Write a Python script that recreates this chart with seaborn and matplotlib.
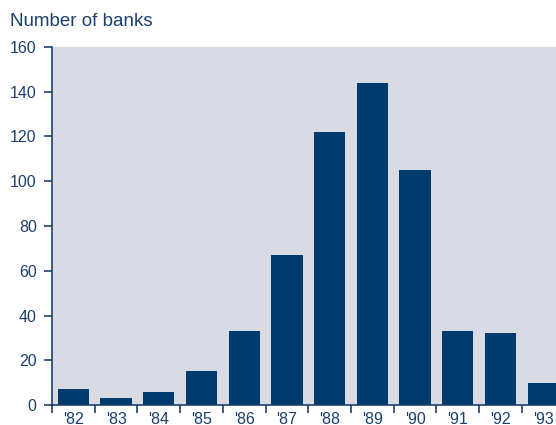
import matplotlib
matplotlib.use("Agg")
import matplotlib.pyplot as plt
import seaborn as sns
import pandas as pd
import numpy as np

# Data
years = ["'82", "'83", "'84", "'85", "'86", "'87", "'88", "'89", "'90", "'91", "'92", "'93"]
banks = [7, 3, 6, 15, 33, 67, 122, 144, 105, 33, 32, 10]
y_ticks = [0, 20, 40, 60, 80, 100, 120, 140, 160]

navy = "#003a6e"
text_blue = "#1d3f6e"
bg = "#d9dbe4"

sns.set_theme(style="white")
plt.rcParams["font.family"] = ["Liberation Sans", "DejaVu Sans"]

df = pd.DataFrame({"year": years, "banks": banks})

fig = plt.figure(figsize=(5.56, 4.25), dpi=100)
ax = fig.add_axes([52 / 556, 20 / 425, 1 - 52 / 556, 358 / 425])
ax.set_facecolor(bg)

sns.barplot(data=df, x="year", y="banks", color=navy, width=0.73,
            saturation=1, linewidth=0, ax=ax)

ax.set_xlim(-0.5, 11.3)
ax.set_ylim(0, 160)
ax.set_yticks(y_ticks)

# major ticks between bars, labels at bar centres
ax.set_xticks(np.arange(-0.5, 11, 1.0))
ax.set_xticklabels([])
ax.set_xticks(np.arange(len(years)), minor=True)
ax.set_xticklabels(years, minor=True)
ax.tick_params(axis="x", which="major", direction="out", length=6, width=1.2,
               color=text_blue, bottom=True)
ax.tick_params(axis="x", which="minor", length=0, pad=5, labelsize=11.5,
               labelcolor=text_blue)
ax.tick_params(axis="y", direction="out", length=6, width=1.2, color=text_blue,
               left=True, labelsize=11.5, labelcolor=text_blue, pad=5)

for side in ["top", "right"]:
    ax.spines[side].set_visible(False)
for side in ["left", "bottom"]:
    ax.spines[side].set_color(text_blue)
    ax.spines[side].set_linewidth(1.2)

ax.set_xlabel("")
ax.set_ylabel("")

fig.text(10 / 556, 1 - 22 / 425, "Number of banks", fontsize=13.5,
         color=text_blue, va="center", ha="left")

fig.savefig("out.png", dpi=100)
